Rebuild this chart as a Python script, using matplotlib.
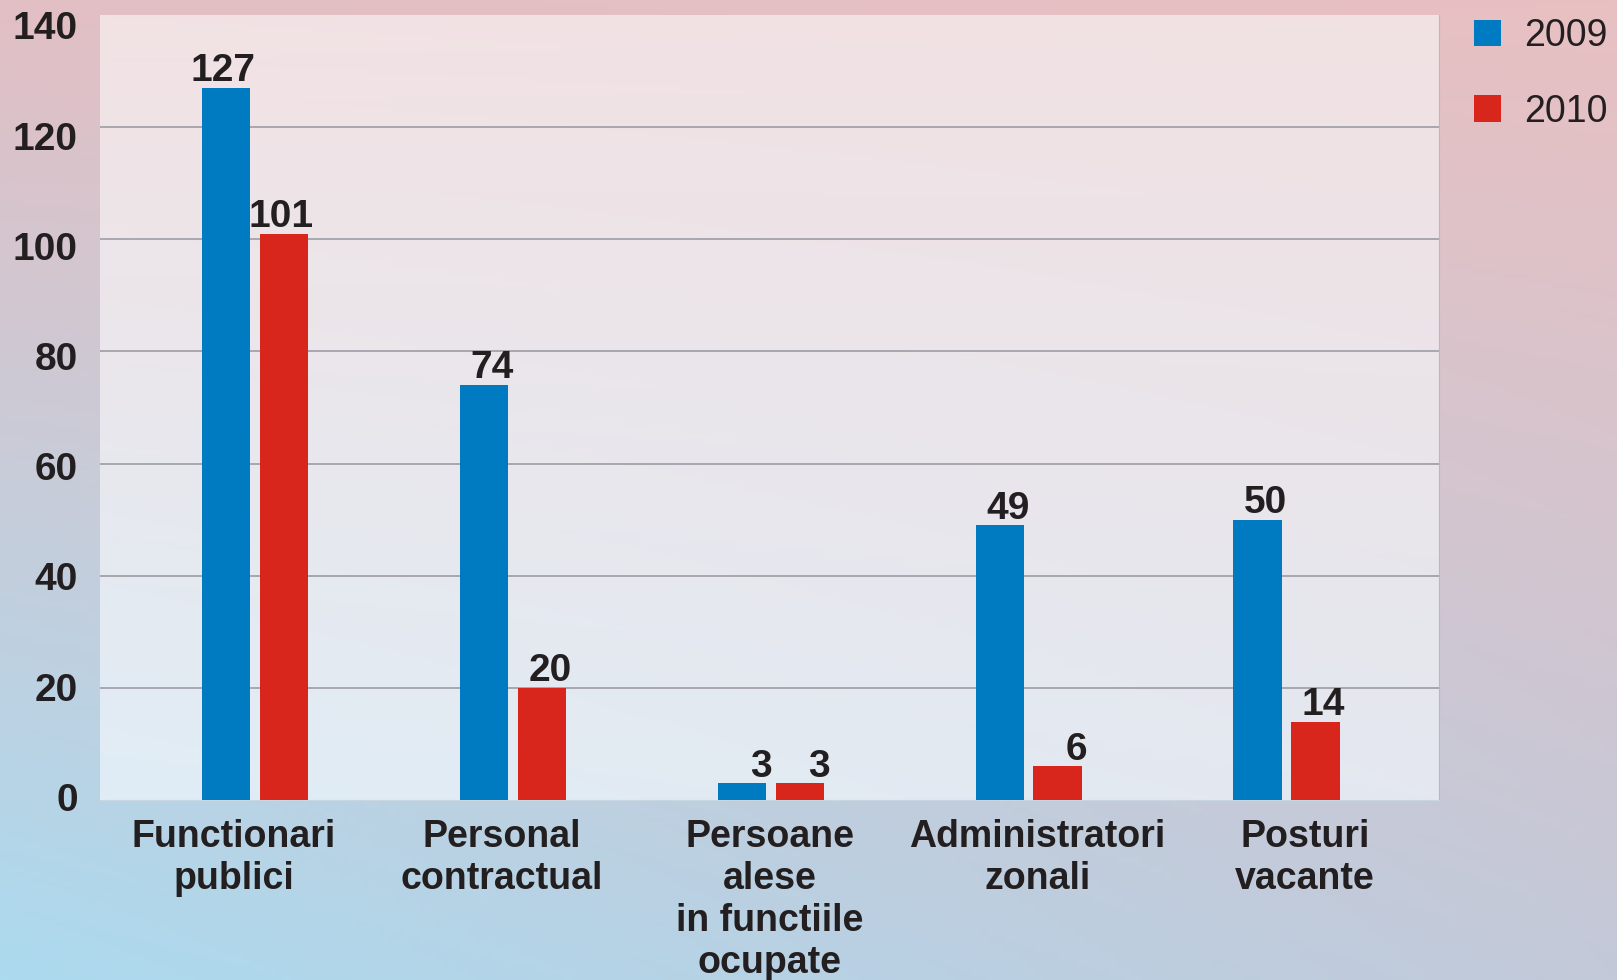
import matplotlib.pyplot as plt
import matplotlib.transforms as mtransforms
import numpy as np

plt.rcParams['font.family'] = ['Liberation Sans', 'DejaVu Sans']

categories = ["Functionari\npublici", "Personal\ncontractual",
              "Persoane\nalese\nin functiile\nocupate",
              "Administratori\nzonali", "Posturi\nvacante"]
series_names = ["2009", "2010"]
values_2009 = [127, 74, 3, 49, 50]
values_2010 = [101, 20, 3, 6, 14]
y_ticks = [0, 20, 40, 60, 80, 100, 120, 140]

BLUE = "#007bc2"
RED = "#d9261c"
TEXT = "#231f20"


def corner_gradient(tl, tr, bl, br, n=200):
    # bilinear blend between four corner colours
    c = [np.array(plt.matplotlib.colors.to_rgb(k)) for k in (tl, tr, bl, br)]
    t = np.linspace(0, 1, n)[:, None, None]
    s = np.linspace(0, 1, n)[None, :, None]
    top = c[0] * (1 - s) + c[1] * s
    bot = c[2] * (1 - s) + c[3] * s
    return top * (1 - t) + bot * t


fig = plt.figure(figsize=(16.17, 9.8), dpi=100)

bg = fig.add_axes([0, 0, 1, 1], zorder=-10)
bg.imshow(corner_gradient("#e2bfc4", "#e8c0c2", "#acdaef", "#c3c9d9"),
          aspect="auto", extent=[0, 1, 0, 1])
bg.axis("off")

ax = fig.add_axes([100 / 1617, 1 - 800 / 980, 1339 / 1617, 785 / 980])
ax.set_xlim(-0.5, 4.5)
ax.set_ylim(0, 140)
ax.imshow(corner_gradient("#f2e2e4", "#f1e1e3", "#e0edf6", "#e4e8f0"),
          aspect="auto", extent=[-0.5, 4.5, 0, 140], zorder=0)

x = np.arange(len(categories))
pitch = 0.963
offset = 0.079
width = 0.181
gap = 0.035
group_c = offset + x * pitch
x_blue = group_c - (width + gap) / 2
x_red = group_c + (width + gap) / 2

handles = []
for xs, vals, col, name in [(x_blue, values_2009, BLUE, series_names[0]),
                            (x_red, values_2010, RED, series_names[1])]:
    handles.append(ax.bar(xs, vals, width, color=col, zorder=3, label=name))
    for xi, v in zip(xs, vals):
        ax.annotate(str(v), (xi + width / 2, v), xytext=(4, -1),
                    textcoords="offset points", ha="right", va="bottom",
                    fontsize=28, fontweight="bold", color=TEXT, zorder=4)

ax.set_yticks(y_ticks)
ax.set_yticklabels([str(t) for t in y_ticks])
ax.set_xticks(x)
ax.set_xticklabels(categories, linespacing=1.21)
ax.tick_params(axis="y", length=0, pad=16, labelsize=28, labelcolor=TEXT)
ax.tick_params(axis="x", length=0, pad=14, labelsize=27, labelcolor=TEXT)
# the labels in the original drift slightly below their gridlines toward the top
for lab, t in zip(ax.get_yticklabels(), y_ticks):
    lab.set_fontweight("bold")
    dy = (-3 + 13 * t / 140) * 1.03
    shift = mtransforms.ScaledTranslation(0, -dy / 100, fig.dpi_scale_trans)
    lab.set_transform(lab.get_transform() + shift)
for lab in ax.get_xticklabels():
    lab.set_fontweight("bold")

for t in y_ticks[1:-1]:
    ax.axhline(t, color="#a3a2aa", lw=1.3, zorder=1)

for side in ["top", "left"]:
    ax.spines[side].set_visible(False)
ax.spines["right"].set_color("#b8b8c4")
ax.spines["bottom"].set_color("#c8d6e2")

leg = fig.legend(handles=handles, loc="upper left",
                 bbox_to_anchor=(1474 / 1617, 1 - 18 / 980),
                 frameon=False, fontsize=27, handlelength=0.72,
                 handleheight=0.72, handletextpad=0.62, labelspacing=1.06,
                 borderpad=0, borderaxespad=0, labelcolor=TEXT)

fig.savefig("out.png", dpi=100)
